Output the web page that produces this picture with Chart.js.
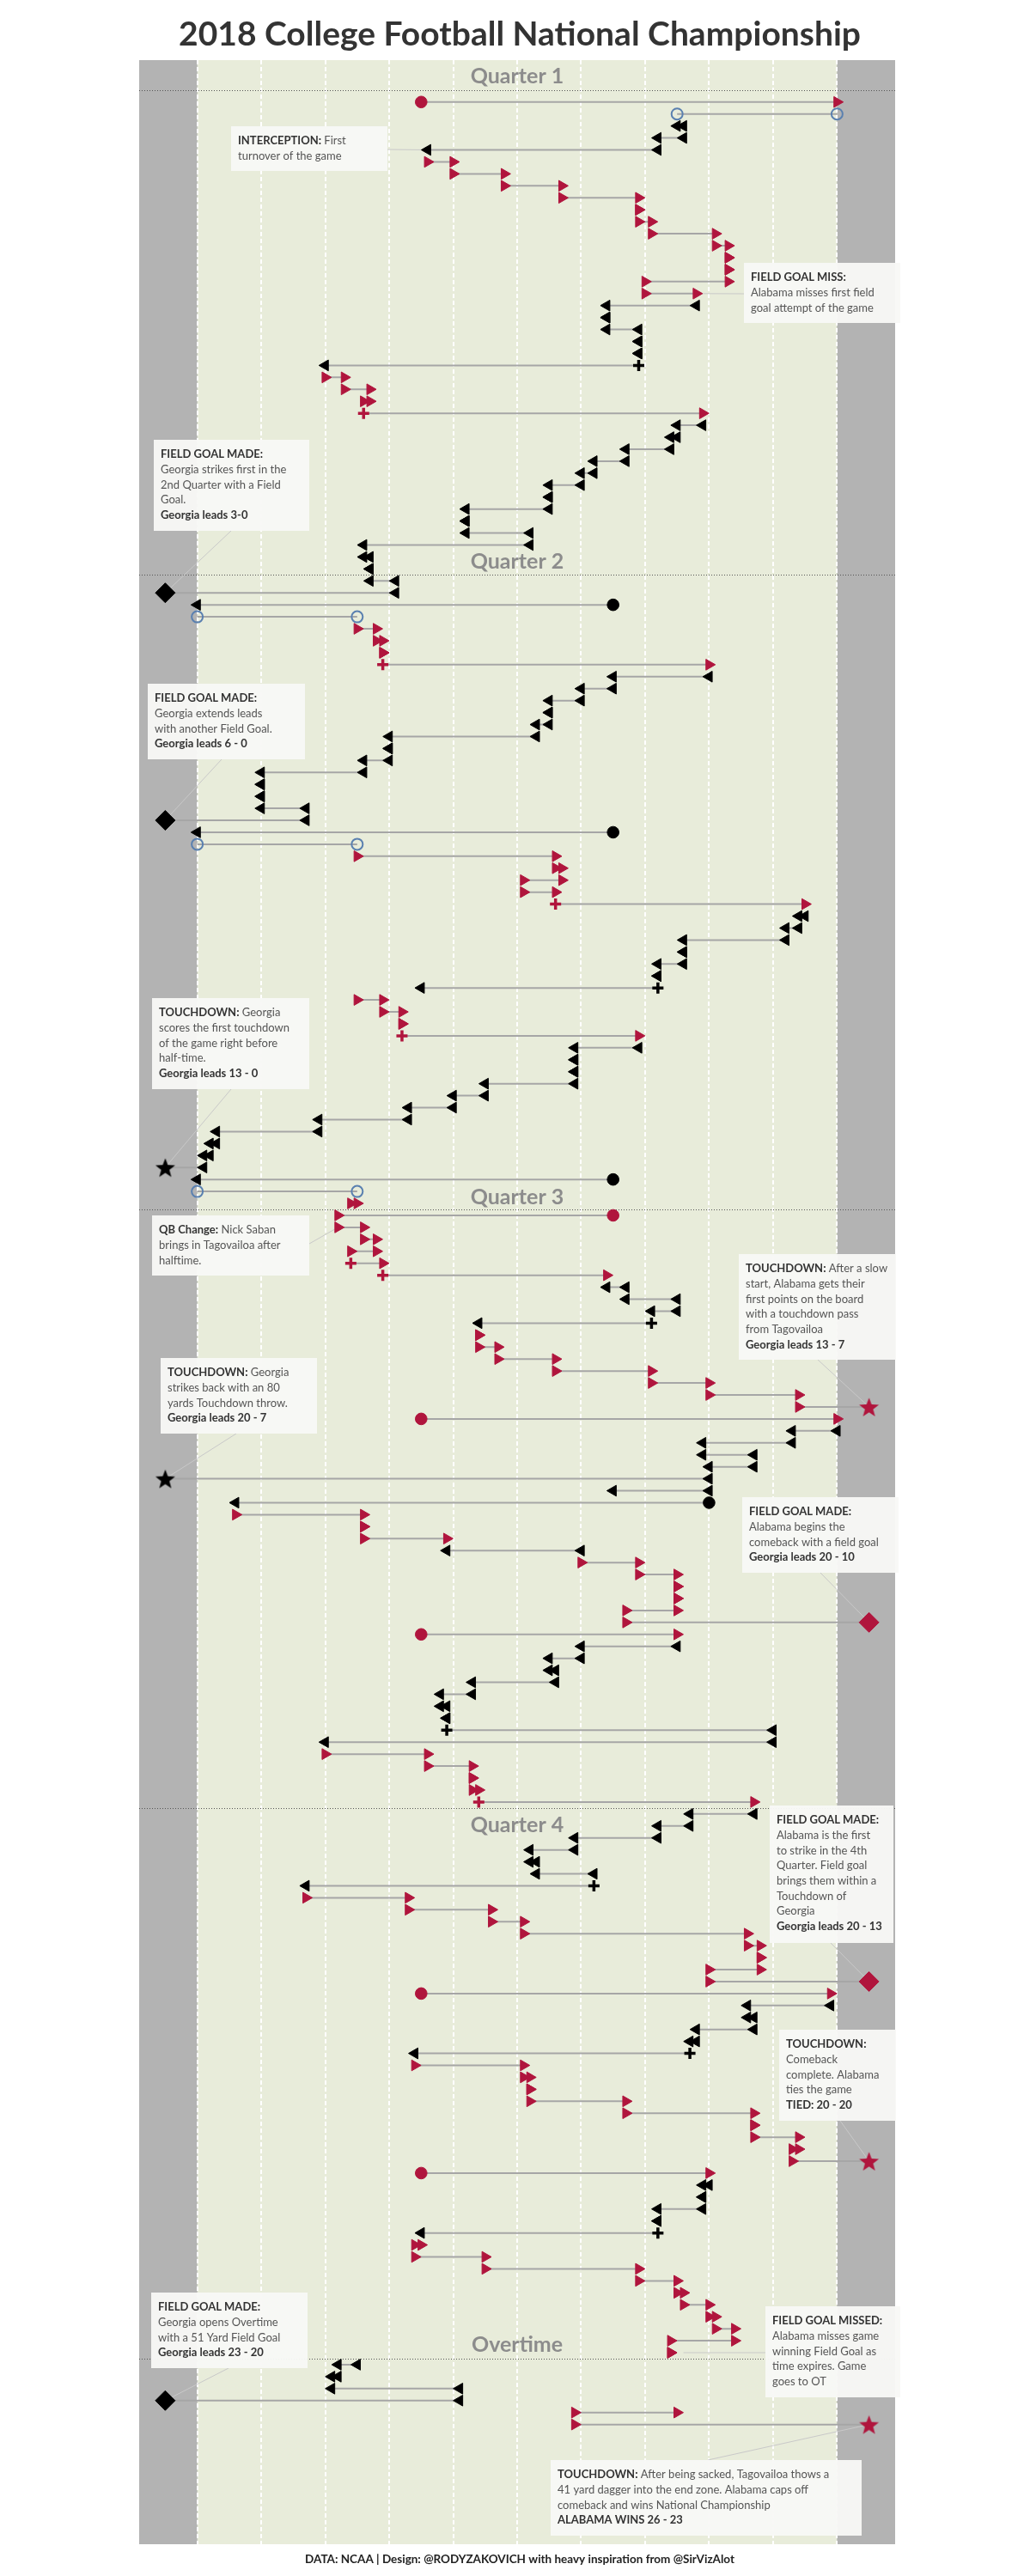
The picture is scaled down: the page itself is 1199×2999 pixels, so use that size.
<!DOCTYPE html>
<html lang="en">
<head>
<meta charset="UTF-8">
<title>2018 College Football National Championship</title>
<style>
  html, body { margin: 0; padding: 0; background: #fff; }
  #wrap { width: 1199px; height: 2999px; position: relative; }
</style>
</head>
<body>
<div id="wrap"><canvas id="myChart"></canvas></div>

<script src="https://cdn.jsdelivr.net/npm/chart.js"></script>
<script>
  // one row per play, read top to bottom; A = Alabama, G = Georgia
  const playTeam = [
    'A','G','G','G','G','A','A','A','A','A',
    'A','A','A','A','A','A','A','G','G','G',
    'G','G','G','A','A','A','A','G','G','G',
    'G','G','G','G','G','G','G','G','G','G',
    'G','G','G','A','A','A','A','A','G','G',
    'G','G','G','G','G','G','G','G','G','G',
    'G','G','A','A','A','A','A','A','G','G',
    'G','G','G','G','G','A','A','A','A','G',
    'G','G','G','G','G','G','G','G','G','G',
    'G','A','A','A','A','A','A','A','A','G',
    'G','G','G','A','A','A','A','A','A','A',
    'A','G','G','G','G','G','G','G','A','A',
    'A','G','A','A','A','A','A','A','A','G',
    'G','G','G','G','G','G','G','G','A','A',
    'A','A','A','G','G','G','G','G','G','G',
    'A','A','A','A','A','A','A','A','A','G',
    'G','G','G','G','A','A','A','A','A','A',
    'A','A','A','A','G','G','G','G','G','A',
    'A','A','A','A','A','A','A','A','A','G',
    'G','G','G','A','A'
  ];

  // yard position (0 = left goal line, 100 = right goal line) where each play starts
  const playStart = [
    35, 100, 75, 76, 72, 36, 40, 48, 57, 69,
    69, 71, 81, 83, 83, 83, 70, 78, 64, 64,
    69, 69, 69, 20, 23, 27, 26, 79, 75, 74,
    67, 62, 60, 55, 55, 42, 42, 52, 26, 27,
    27, 31, 65, 0, 25, 28, 29, 29, 80, 65,
    60, 55, 55, 53, 30, 30, 26, 10, 10, 10,
    17, 65, 0, 25, 56, 57, 51, 56, 95, 94,
    92, 76, 76, 72, 72, 25, 29, 32, 32, 69,
    59, 59, 59, 45, 40, 33, 19, 3, 2, 1,
    65, 0, 25, 65, 22, 26, 28, 24, 29, 64,
    67, 75, 71, 44, 44, 47, 56, 71, 80, 94,
    35, 100, 93, 79, 87, 80, 65, 80, 6, 26,
    26, 39, 60, 69, 75, 75, 75, 67, 35, 75,
    60, 55, 56, 43, 38, 39, 39, 90, 20, 36,
    43, 43, 44, 87, 77, 72, 59, 52, 53, 62,
    17, 33, 46, 51, 86, 88, 88, 80, 35, 99,
    86, 87, 78, 77, 34, 51, 52, 52, 67, 87,
    87, 94, 93, 35, 80, 79, 79, 72, 72, 35,
    34, 45, 69, 75, 76, 80, 81, 84, 74, 25,
    22, 21, 41, 75, 59
  ];

  // yard position where each play ends (-5 / 105 = in the end zone)
  const playEnd = [
    100, 75, 76, 72, 36, 40, 48, 57, 69, 69,
    71, 81, 83, 83, 83, 70, 78, 64, 64, 69,
    69, 69, 20, 23, 27, 26, 79, 75, 74, 67,
    62, 60, 55, 55, 42, 42, 52, 26, 27, 27,
    31, -5, 0, 25, 28, 29, 29, 80, 65, 60,
    55, 55, 53, 30, 30, 26, 10, 10, 10, 17,
    -5, 0, 25, 56, 57, 51, 56, 95, 94, 92,
    76, 76, 72, 72, 35, 29, 32, 32, 69, 59,
    59, 59, 45, 40, 33, 19, 3, 2, 1, -5,
    0, 25, 24, 22, 26, 28, 24, 29, 64, 67,
    75, 71, 44, 44, 47, 56, 71, 80, 94, 105,
    100, 93, 79, 87, 80, -5, 80, 6, 26, 26,
    39, 60, 69, 75, 75, 75, 67, 105, 75, 60,
    55, 56, 43, 38, 39, 39, 90, 20, 36, 43,
    43, 44, 87, 77, 72, 59, 52, 53, 62, 17,
    33, 46, 51, 86, 88, 88, 80, 105, 99, 86,
    87, 78, 77, 34, 51, 52, 52, 67, 87, 87,
    94, 93, 105, 80, 79, 79, 72, 72, 35, 34,
    45, 69, 75, 76, 80, 81, 84, 74, 74, 22,
    21, 41, -5, 59, 105
  ];

  // marker at start / end of a play when it is not a plain arrow
  const startMark = {
    0: 'kick', 1: 'touchback', 22: 'punt', 26: 'punt', 42: 'kick', 43: 'touchback',
    47: 'punt', 61: 'kick', 62: 'touchback', 67: 'punt', 74: 'punt', 78: 'punt',
    90: 'kick', 91: 'touchback', 93: 'kick', 97: 'punt', 98: 'punt', 102: 'punt',
    110: 'kick', 117: 'kick', 128: 'kick', 136: 'punt', 142: 'punt', 149: 'punt',
    158: 'kick', 163: 'punt', 173: 'kick', 178: 'punt'
  };
  const endMark = {
    1: 'touchback', 41: 'fieldgoal', 43: 'touchback', 60: 'fieldgoal', 62: 'touchback',
    89: 'touchdown', 91: 'touchback', 109: 'touchdown', 115: 'touchdown',
    127: 'fieldgoal', 157: 'fieldgoal', 172: 'touchdown', 192: 'fieldgoal', 194: 'touchdown'
  };

  const quarterNames = ['Quarter 1', 'Quarter 2', 'Quarter 3', 'Quarter 4', 'Overtime'];
  const quarterLineRow = [-1, 39.5, 92.5, 142.5, 188.5];
  const quarterLabelRow = [-2.2, 38.3, 91.4, 143.9, 187.3];
  const yardLines = [0, 10, 20, 30, 40, 50, 60, 70, 80, 90, 100];

  // call-outs: text lines are [bold part, regular part]
  const notes = [
    { row: 4, yard: 36, box: [269, 147, 182, 52], from: [451, 174],
      lines: [['INTERCEPTION:', ' First'], ['', 'turnover of the game']] },
    { row: 16, yard: 78, box: [866, 306, 182, 70], from: [866, 342],
      lines: [['FIELD GOAL MISS:', ''], ['', 'Alabama misses first field'], ['', 'goal attempt of the game']] },
    { row: 41, yard: -5, box: [179, 512, 181, 106], from: [269, 618],
      lines: [['FIELD GOAL MADE:', ''], ['', 'Georgia strikes first in the'], ['', '2nd Quarter with a Field'], ['', 'Goal.'], ['Georgia leads 3-0', '']] },
    { row: 60, yard: -5, box: [172, 796, 183, 88], from: [258, 884],
      lines: [['FIELD GOAL MADE:', ''], ['', 'Georgia extends leads'], ['', 'with another Field Goal.'], ['Georgia leads 6 - 0', '']] },
    { row: 89, yard: -5, box: [177, 1162, 183, 106], from: [269, 1268],
      lines: [['TOUCHDOWN:', ' Georgia'], ['', 'scores the first touchdown'], ['', 'of the game right before'], ['', 'half-time.'], ['Georgia leads 13 - 0', '']] },
    { row: 94, yard: 22, box: [177, 1415, 183, 70], from: [360, 1448],
      lines: [['QB Change:', ' Nick Saban'], ['', 'brings in Tagovailoa after'], ['', 'halftime.']] },
    { row: 109, yard: 105, box: [860, 1460, 183, 123], from: [952, 1583],
      lines: [['TOUCHDOWN:', ' After a slow'], ['', 'start, Alabama gets their'], ['', 'first points on the board'], ['', 'with a touchdown pass'], ['', 'from Tagovailoa'], ['Georgia leads 13 - 7', '']] },
    { row: 115, yard: -5, box: [187, 1581, 182, 88], from: [275, 1669],
      lines: [['TOUCHDOWN:', ' Georgia'], ['', 'strikes back with an 80'], ['', 'yards Touchdown throw.'], ['Georgia leads 20 - 7', '']] },
    { row: 127, yard: 105, box: [864, 1743, 182, 88], from: [955, 1831],
      lines: [['FIELD GOAL MADE:', ''], ['', 'Alabama begins the'], ['', 'comeback with a field goal'], ['Georgia leads 20 - 10', '']] },
    { row: 157, yard: 105, box: [896, 2102, 144, 160], from: [967, 2262],
      lines: [['FIELD GOAL MADE:', ''], ['', 'Alabama is the first'], ['', 'to strike in the 4th'], ['', 'Quarter. Field goal'], ['', 'brings them within a'], ['', 'Touchdown of'], ['', 'Georgia'], ['Georgia leads 20 - 13', '']] },
    { row: 172, yard: 105, box: [907, 2363, 136, 106], from: [978, 2469],
      lines: [['TOUCHDOWN:', ''], ['', 'Comeback'], ['', 'complete. Alabama'], ['', 'ties the game'], ['TIED: 20 - 20', '']] },
    { row: 192, yard: -5, box: [176, 2669, 182, 88], from: [266, 2757],
      lines: [['FIELD GOAL MADE:', ''], ['', 'Georgia opens Overtime'], ['', 'with a 51 Yard Field Goal'], ['Georgia leads 23 - 20', '']] },
    { row: 188, yard: 76, box: [891, 2685, 157, 106], from: [891, 2739],
      lines: [['FIELD GOAL MISSED:', ''], ['', 'Alabama misses game'], ['', 'winning Field Goal as'], ['', 'time expires. Game'], ['', 'goes to OT']] },
    { row: 194, yard: 105, box: [641, 2864, 362, 88], from: [824, 2864],
      lines: [['TOUCHDOWN:', ' After being sacked, Tagovailoa thows a'], ['', '41 yard dagger into the end zone. Alabama caps off'], ['', 'comeback and wins National Championship'], ['ALABAMA WINS 26 - 23', '']] }
  ];

  const RED = '#b0153d';
  const BLACK = '#000000';
  const BLUE = '#5a80b0';
  const FONT = "Lato, 'Open Sans', 'Noto Sans', sans-serif";

  function starImage(color, r) {
    const c = document.createElement('canvas');
    c.width = c.height = Math.ceil(r * 2) + 2;
    const g = c.getContext('2d');
    const cx = c.width / 2, cy = c.height / 2 + r * 0.1;
    g.beginPath();
    for (let i = 0; i < 10; i++) {
      const rr = i % 2 ? r * 0.42 : r;
      const ang = -Math.PI / 2 + i * Math.PI / 5;
      g.lineTo(cx + rr * Math.cos(ang), cy + rr * Math.sin(ang));
    }
    g.closePath();
    g.fillStyle = color;
    g.fill();
    return c;
  }

  // gray connector line for every play, broken between rows
  const segments = [];
  playStart.forEach((s, i) => {
    segments.push({ x: s, y: i }, { x: playEnd[i], y: i }, { x: null, y: null });
  });

  // collect marker points by team + marker kind
  const groups = {};
  function addMark(team, kind, x, row) {
    const key = team + '|' + kind;
    (groups[key] = groups[key] || []).push({ x: x, y: row });
  }
  playStart.forEach((s, i) => {
    addMark(playTeam[i], startMark[i] || 'arrow', s, i);
    addMark(playTeam[i], endMark[i] || 'arrow', playEnd[i], i);
  });

  function markDataset(key) {
    const [team, kind] = key.split('|');
    const col = team === 'A' ? RED : BLACK;
    const ds = { type: 'scatter', data: groups[key], order: 1, showLine: false,
                 backgroundColor: col, borderColor: col, borderWidth: 1, pointHoverRadius: 0 };
    if (kind === 'arrow') {
      Object.assign(ds, { pointStyle: 'triangle', pointRotation: team === 'A' ? 90 : -90, pointRadius: 7.3 });
    } else if (kind === 'kick') {
      Object.assign(ds, { pointStyle: 'circle', pointRadius: 6.8 });
    } else if (kind === 'touchback') {
      Object.assign(ds, { pointStyle: 'circle', pointRadius: 6.5, backgroundColor: 'rgba(0,0,0,0)',
                          borderColor: BLUE, borderWidth: 2 });
    } else if (kind === 'punt') {
      Object.assign(ds, { pointStyle: 'cross', pointRadius: 6.5, borderWidth: 3.5 });
    } else if (kind === 'fieldgoal') {
      Object.assign(ds, { pointStyle: 'rectRot', pointRadius: 11.5 });
    } else if (kind === 'touchdown') {
      Object.assign(ds, { pointStyle: starImage(col, 12), pointRadius: 12 });
    }
    return ds;
  }

  const fieldPlugin = {
    id: 'field',
    beforeDraw(chart) {
      const { ctx, chartArea: a, scales: { x, y } } = chart;
      ctx.save();
      ctx.fillStyle = '#fff';
      ctx.fillRect(0, 0, chart.width, chart.height);

      // end zones + field
      ctx.fillStyle = '#b3b3b3';
      ctx.fillRect(a.left, a.top, a.right - a.left, a.bottom - a.top);
      const g0 = x.getPixelForValue(0), g100 = x.getPixelForValue(100);
      ctx.fillStyle = '#e8ecda';
      ctx.fillRect(g0, a.top, g100 - g0, a.bottom - a.top);

      ctx.strokeStyle = '#ffffff';
      ctx.lineWidth = 2;
      ctx.setLineDash([5, 3]);
      yardLines.forEach(v => {
        const px = Math.round(x.getPixelForValue(v));
        ctx.beginPath();
        ctx.moveTo(px, a.top);
        ctx.lineTo(px, a.bottom);
        ctx.stroke();
      });

      // quarter separators
      ctx.strokeStyle = '#555';
      ctx.lineWidth = 1;
      ctx.setLineDash([1, 2]);
      quarterLineRow.forEach(r => {
        const py = Math.round(y.getPixelForValue(r)) + 0.5;
        ctx.beginPath();
        ctx.moveTo(a.left, py);
        ctx.lineTo(a.right, py);
        ctx.stroke();
      });
      ctx.setLineDash([]);

      ctx.font = 'bold 25px ' + FONT;
      ctx.fillStyle = '#8c8c8c';
      ctx.textAlign = 'center';
      ctx.textBaseline = 'alphabetic';
      quarterNames.forEach((n, i) => {
        ctx.fillText(n, x.getPixelForValue(50), y.getPixelForValue(quarterLabelRow[i]) + 9);
      });

      // call-outs
      notes.forEach(n => {
        const tx = x.getPixelForValue(n.yard), ty = y.getPixelForValue(n.row);
        ctx.strokeStyle = '#c9c9c9';
        ctx.lineWidth = 1;
        ctx.beginPath();
        ctx.moveTo(n.from[0], n.from[1]);
        ctx.lineTo(tx, ty);
        ctx.stroke();

        const [bx, by, bw, bh] = n.box;
        ctx.fillStyle = 'rgba(248,248,246,0.96)';
        ctx.fillRect(bx, by, bw, bh);

        ctx.textAlign = 'left';
        ctx.textBaseline = 'middle';
        n.lines.forEach((ln, i) => {
          const ly = by + 17 + i * 17.7;
          let lx = bx + 8;
          if (ln[0]) {
            ctx.font = 'bold 13px ' + FONT;
            ctx.fillStyle = '#333';
            ctx.fillText(ln[0], lx, ly);
            lx += ctx.measureText(ln[0]).width;
          }
          if (ln[1]) {
            ctx.font = '13px ' + FONT;
            ctx.fillStyle = '#555';
            ctx.fillText(ln[1], lx, ly);
          }
        });
      });
      ctx.restore();
    },
    afterDraw(chart) {
      const ctx = chart.ctx;
      ctx.save();
      ctx.textAlign = 'center';
      ctx.textBaseline = 'alphabetic';
      ctx.fillStyle = '#333';
      ctx.font = 'bold 39px ' + FONT;
      ctx.fillText('2018 College Football National Championship', 605, 53);
      ctx.fillStyle = '#222';
      ctx.font = 'bold 13.5px ' + FONT;
      ctx.fillText('DATA: NCAA | Design: @RODYZAKOVICH with heavy inspiration from @SirVizAlot', 605, 2984);
      ctx.restore();
    }
  };

  const ctx = document.getElementById('myChart');

  const datasets = [{
    type: 'scatter',
    data: segments,
    showLine: true,
    spanGaps: false,
    pointRadius: 0,
    borderColor: '#a6a6a6',
    borderWidth: 2,
    order: 2
  }];
  Object.keys(groups).forEach(k => datasets.push(markDataset(k)));

  new Chart(ctx, {
    type: 'scatter',
    data: { datasets: datasets },
    options: {
      responsive: true,
      maintainAspectRatio: false,
      animation: false,
      events: [],
      layout: { padding: { left: 162, right: 157, top: 70, bottom: 37 } },
      scales: {
        x: { type: 'linear', min: -9.08, max: 109.08, display: false },
        y: { type: 'linear', min: -3.5, max: 204, reverse: true, display: false }
      },
      plugins: {
        legend: { display: false },
        tooltip: { enabled: false },
        title: { display: false }
      }
    },
    plugins: [fieldPlugin]
  });
</script>
</body>
</html>
